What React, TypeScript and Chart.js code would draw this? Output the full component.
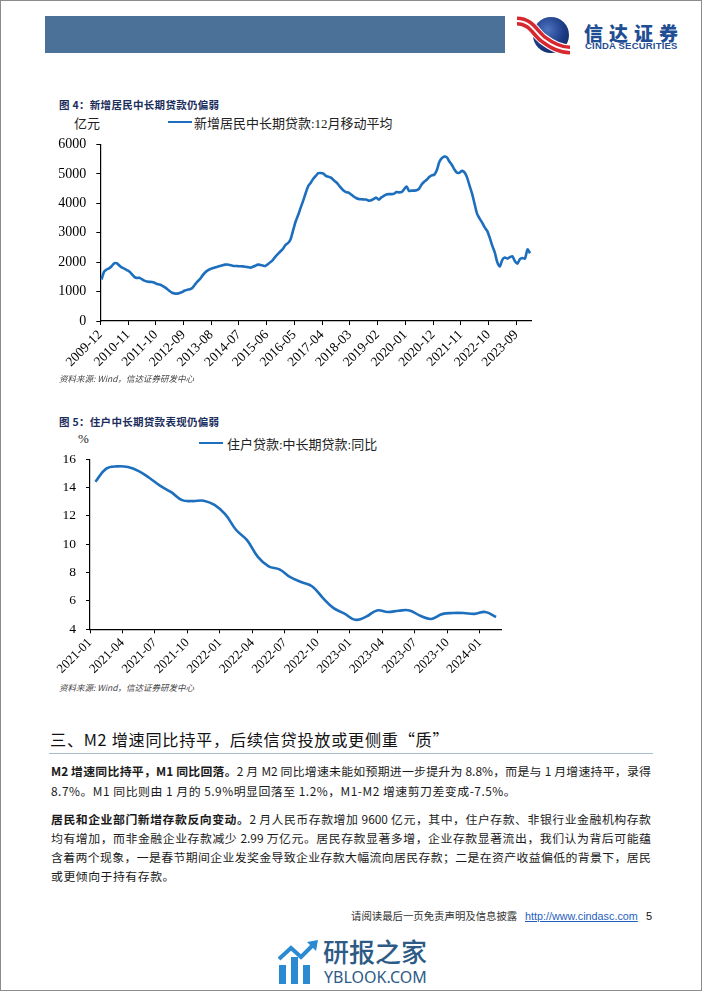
import React, { useEffect, useRef } from "react";
import { Chart, registerables } from "chart.js";
Chart.register(...registerables);

function monthLabels(y0: number, m0: number, n: number): string[] {
  const out: string[] = [];
  for (let i = 0; i < n; i++) {
    const t = y0 * 12 + (m0 - 1) + i;
    const y = Math.floor(t / 12);
    const m = (t % 12) + 1;
    out.push(`${y}-${m < 10 ? "0" + m : m}`);
  }
  return out;
}

// Chart 4: 新增居民中长期贷款:12月移动平均 (亿元), 2009-12 .. 2024-02
const loanLabels = monthLabels(2009, 12, 171);
const loanValues = [
  1410, 1680, 1750, 1790, 1860, 1960, 1960, 1890, 1820, 1780,
  1730, 1680, 1590, 1500, 1460, 1470, 1420, 1370, 1340, 1330,
  1325, 1300, 1260, 1240, 1205, 1150, 1090, 1020, 960, 935,
  930, 950, 985, 1035, 1060, 1080, 1120, 1230, 1340, 1420,
  1540, 1640, 1710, 1760, 1790, 1820, 1845, 1870, 1895, 1915,
  1920, 1900, 1880, 1870, 1865, 1860, 1855, 1845, 1830, 1815,
  1840, 1875, 1915, 1905, 1885, 1870, 1930, 2000, 2080, 2190,
  2280, 2370, 2455, 2590, 2650, 2780, 3080, 3380, 3600, 3850,
  4090, 4350, 4580, 4700, 4830, 4930, 5020, 5030, 5010, 4930,
  4900, 4870, 4790, 4720, 4630, 4520, 4430, 4380, 4360, 4300,
  4230, 4180, 4145, 4135, 4130, 4125, 4090, 4100, 4150, 4190,
  4120, 4200, 4250, 4300, 4310, 4310, 4325, 4380, 4370, 4380,
  4470, 4570, 4420, 4430, 4430, 4440, 4500, 4640, 4730, 4800,
  4890, 4950, 4970, 5120, 5400, 5530, 5585, 5560, 5420, 5300,
  5150, 5040, 5040, 5100, 5050, 4880, 4600, 4330, 3980, 3640,
  3480, 3340, 3180, 3060, 2830, 2560, 2330, 2000, 1850, 2080,
  2160, 2120, 2170, 2200, 2030, 1950, 2100, 2140, 2120, 2430,
  2300,
];
const loanSeriesName = "新增居民中长期贷款:12月移动平均";
const loanUnit = "亿元";

// Chart 5: 住户贷款:中长期贷款:同比 (%), 2021-01 .. 2024-02
const yoyLabels = monthLabels(2021, 1, 38);
const yoyValues = [
  14.4, 15.33, 15.49, 15.44, 15.15, 14.67, 14.11, 13.67, 13.11, 13.04,
  13.07, 12.77, 12.1, 11.0, 10.29, 9.11, 8.44, 8.22, 7.67, 7.33,
  7.04, 6.22, 5.49, 5.11, 4.67, 4.89, 5.33, 5.22, 5.31, 5.33,
  4.95, 4.73, 5.07, 5.15, 5.15, 5.09, 5.22, 4.87,
];
const yoySeriesName = "住户贷款:中长期贷款:同比";
const yoyUnit = "%";

const LINE = "#1d6fbe";
const SERIF = '"Liberation Serif", "Times New Roman", "Noto Sans CJK SC", serif';
const CJK = '"Noto Sans CJK SC", "Liberation Serif", sans-serif';

type LineChartProps = {
  labels: string[];
  values: number[];
  yMin: number;
  yMax: number;
  yStep: number;
  xStep: number;
  width: number;
  height: number;
  yAxisWidth: number;
  xAxisHeight: number;
  padTop: number;
  padRight: number;
  fontSize: number;
  tension: number;
  name: string;
};

function LineChart(p: LineChartProps) {
  const ref = useRef<HTMLCanvasElement | null>(null);
  useEffect(() => {
    if (!ref.current) return;
    const n = p.values.length;
    const chart = new Chart(ref.current, {
      type: "line",
      data: {
        datasets: [
          {
            label: p.name,
            data: p.values.map((v, i) => ({ x: i + 0.5, y: v })),
            borderColor: LINE,
            borderWidth: 2.6,
            pointRadius: 0,
            tension: p.tension,
            fill: false,
          },
        ],
      },
      options: {
        animation: false,
        responsive: false,
        devicePixelRatio: 1,
        layout: { padding: { top: p.padTop, right: p.padRight, left: 0, bottom: 0 } },
        plugins: { legend: { display: false }, tooltip: { enabled: false }, title: { display: false } },
        scales: {
          x: {
            type: "linear",
            min: 0,
            max: n,
            afterFit: (s: any) => {
              s.height = p.xAxisHeight;
            },
            grid: { display: true, drawOnChartArea: false, drawTicks: true, tickLength: 4, color: "#000", lineWidth: 1 },
            border: { display: true, color: "#000", width: 1.2 },
            ticks: {
              stepSize: p.xStep,
              includeBounds: false,
              autoSkip: false,
              minRotation: 45,
              maxRotation: 45,
              padding: 2,
              color: "#000",
              font: { family: SERIF, size: p.fontSize },
              callback: (v: any) => {
                const lab = p.labels[Math.round(Number(v))];
                return lab === undefined ? "" : lab;
              },
            },
          },
          y: {
            type: "linear",
            min: p.yMin,
            max: p.yMax,
            afterFit: (s: any) => {
              s.width = p.yAxisWidth;
            },
            grid: { display: true, drawOnChartArea: false, drawTicks: true, tickLength: 4, color: "#000", lineWidth: 1 },
            border: { display: true, color: "#000", width: 1.2 },
            ticks: {
              stepSize: p.yStep,
              padding: 10,
              color: "#000",
              font: { family: SERIF, size: p.fontSize + 0.5 },
              callback: (v: any) => String(v),
            },
          },
        },
      },
    } as any);
    return () => chart.destroy();
  }, []);
  return <canvas ref={ref} width={p.width} height={p.height} style={{ width: p.width, height: p.height, display: "block" }} />;
}

const abs = (l: number, t: number, extra: React.CSSProperties = {}): React.CSSProperties => ({
  position: "absolute",
  left: l,
  top: t,
  whiteSpace: "nowrap",
  ...extra,
});

function Logo() {
  const d = "M2 6 C 16 6, 20 18, 28 24 S 44 35, 55 35";
  return (
    <svg width={58} height={40} viewBox="0 0 58 40" style={abs(514, 14)}>
      <defs>
        <radialGradient id="gl" cx="0.4" cy="0.35" r="0.75">
          <stop offset="0" stopColor="#4f74c0" />
          <stop offset="0.6" stopColor="#1d3d88" />
          <stop offset="1" stopColor="#0f2960" />
        </radialGradient>
      </defs>
      <circle cx={36} cy={20} r={18} fill="url(#gl)" />
      <path d={d} stroke="#fff" strokeWidth={11} fill="none" />
      <path d={d} stroke="#d7282f" strokeWidth={9} fill="none" />
      <path d={d} stroke="#fff" strokeWidth={1.8} fill="none" />
    </svg>
  );
}

function Watermark() {
  return (
    <div style={abs(276, 936, { width: 160, height: 52 })}>
      <svg width={44} height={48} viewBox="0 0 44 48" style={{ position: "absolute", left: 0, top: 0 }}>
        <rect x={2} y={28} width={7} height={19} fill="#2a8ad2" />
        <rect x={14} y={20} width={7} height={27} fill="#2a8ad2" />
        <rect x={26} y={28} width={7} height={19} fill="#2a8ad2" />
        <path d="M2 22 L14 11 L24 20 L36 8" stroke="#2a8ad2" strokeWidth={4} fill="none" />
        <path d="M30 5 L41 3 L39 14 Z" fill="#2a8ad2" />
      </svg>
      <div style={{ position: "absolute", left: 46, top: -4, lineHeight: "36px", fontFamily: CJK, fontSize: 26, color: "#2e5b86", fontWeight: 500 }}>
        研报之家
      </div>
      <div style={{ position: "absolute", left: 47, top: 30, lineHeight: "20px", fontFamily: '"Noto Sans", "Open Sans", sans-serif', fontSize: 16, color: "#2e5b86" }}>
        YBLOOK.COM
      </div>
    </div>
  );
}

const titleStyle: React.CSSProperties = {
  fontFamily: CJK,
  fontSize: 10.5,
  fontWeight: 700,
  color: "#1b2d5c",
  letterSpacing: 0.3,
};
const sourceStyle: React.CSSProperties = {
  fontFamily: '"Noto Sans CJK SC", "Liberation Sans", sans-serif',
  fontSize: 8.5,
  fontStyle: "italic",
  color: "#444",
};
const legendText: React.CSSProperties = {
  fontFamily: '"Liberation Serif", "Noto Sans CJK SC", serif',
  fontSize: 13,
  color: "#222",
  letterSpacing: 0,
};
const bodyLine: React.CSSProperties = {
  position: "absolute",
  left: 50,
  width: 600,
  fontFamily: CJK,
  fontSize: 11.9,
  color: "#1a1a1a",
  whiteSpace: "nowrap",
  lineHeight: "16px",
};
const justified: React.CSSProperties = {
  ...bodyLine,
  whiteSpace: "normal",
  textAlign: "justify",
  textAlignLast: "justify" as any,
};

export default function App() {
  return (
    <div
      style={{
        position: "absolute",
        left: 0,
        top: 0,
        width: 702,
        height: 991,
        boxSizing: "border-box",
        border: "1px solid #8c8c8c",
        background: "#fff",
        overflow: "hidden",
      }}
    >
      {/* header */}
      <div style={{ position: "absolute", left: 44, top: 15, width: 460, height: 37, background: "#4c7198" }} />
      <Logo />
      <div style={abs(583, 19, { fontFamily: CJK, fontSize: 19, lineHeight: "26px", fontWeight: 900, color: "#1f4e94", letterSpacing: 6 })}>信达证券</div>
      <div style={abs(584, 39, { fontFamily: '"Liberation Sans", Arial, sans-serif', fontSize: 9.5, lineHeight: "12px", fontWeight: 700, color: "#1f4e94", letterSpacing: 0.2 })}>
        CINDA SECURITIES
      </div>

      {/* chart 4 */}
      <div style={abs(58, 96, titleStyle)}>图 4：新增居民中长期贷款仍偏弱</div>
      <div style={abs(73, 112, legendText)}>{loanUnit}</div>
      <div style={{ position: "absolute", left: 167, top: 119.5, width: 24, height: 2.6, background: LINE }} />
      <div style={abs(193, 112, legendText)}>{loanSeriesName}</div>
      <div style={{ position: "absolute", left: 40, top: 125 }}>
        <LineChart
          labels={loanLabels}
          values={loanValues}
          yMin={0}
          yMax={6000}
          yStep={1000}
          xStep={11}
          width={500}
          height={250}
          yAxisWidth={59.3}
          xAxisHeight={55}
          padTop={8}
          padRight={9.7}
          fontSize={13.5}
          tension={0.25}
          name={loanSeriesName}
        />
      </div>
      <div style={abs(58, 371, sourceStyle)}>资料来源: Wind，信达证券研发中心</div>

      {/* chart 5 */}
      <div style={abs(58, 413, titleStyle)}>图 5：住户中长期贷款表现仍偏弱</div>
      <div style={abs(77, 430, legendText)}>{yoyUnit}</div>
      <div style={{ position: "absolute", left: 198, top: 440.5, width: 24, height: 2.6, background: LINE }} />
      <div style={abs(226, 433, legendText)}>{yoySeriesName}</div>
      <div style={{ position: "absolute", left: 30, top: 440 }}>
        <LineChart
          labels={yoyLabels}
          values={yoyValues}
          yMin={4}
          yMax={16}
          yStep={2}
          xStep={3}
          width={480}
          height={240}
          yAxisWidth={59}
          xAxisHeight={51.7}
          padTop={8.3}
          padRight={9.5}
          fontSize={13}
          tension={0.4}
          name={yoySeriesName}
        />
      </div>
      <div style={abs(58, 680, sourceStyle)}>资料来源: Wind，信达证券研发中心</div>

      {/* section heading */}
      <div style={abs(49, 728, { fontFamily: CJK, fontSize: 16.2, lineHeight: "21px", color: "#111", letterSpacing: 0.7 })}>
        三、M2 增速同比持平，后续信贷投放或更侧重“质”
      </div>
      <div style={{ position: "absolute", left: 48, top: 752, width: 604, height: 1, background: "#a8bcd2" }} />

      {/* paragraph 1 */}
      <div style={{ ...justified, top: 762 }}>
        <b>M2 增速同比持平，M1 同比回落。</b>2 月 M2 同比增速未能如预期进一步提升为 8.8%，而是与 1 月增速持平，录得
      </div>
      <div style={{ ...bodyLine, top: 782, letterSpacing: 0.5 }}>8.7%。M1 同比则由 1 月的 5.9%明显回落至 1.2%，M1-M2 增速剪刀差变成-7.5%。</div>

      {/* paragraph 2 */}
      <div style={{ ...justified, top: 810 }}>
        <b>居民和企业部门新增存款反向变动。</b>2 月人民币存款增加 9600 亿元，其中，住户存款、非银行业金融机构存款
      </div>
      <div style={{ ...justified, top: 829 }}>
        均有增加，而非金融企业存款减少 2.99 万亿元。居民存款显著多增，企业存款显著流出，我们认为背后可能蕴
      </div>
      <div style={{ ...justified, top: 848 }}>
        含着两个现象，一是春节期间企业发奖金导致企业存款大幅流向居民存款；二是在资产收益偏低的背景下，居民
      </div>
      <div style={{ ...bodyLine, top: 867, letterSpacing: 0.5 }}>或更倾向于持有存款。</div>

      {/* footer */}
      <div style={abs(350, 908, { fontFamily: CJK, fontSize: 10.4, lineHeight: "14px", color: "#333" })}>请阅读最后一页免责声明及信息披露</div>
      <div style={abs(524, 908, { fontFamily: '"Liberation Sans", Arial, sans-serif', fontSize: 10.8, lineHeight: "14px", color: "#1f5fbf", textDecoration: "underline" })}>
        http://www.cindasc.com
      </div>
      <div style={abs(645, 908, { fontFamily: '"Liberation Sans", Arial, sans-serif', fontSize: 11, lineHeight: "14px", color: "#111" })}>5</div>

      <Watermark />
    </div>
  );
}
